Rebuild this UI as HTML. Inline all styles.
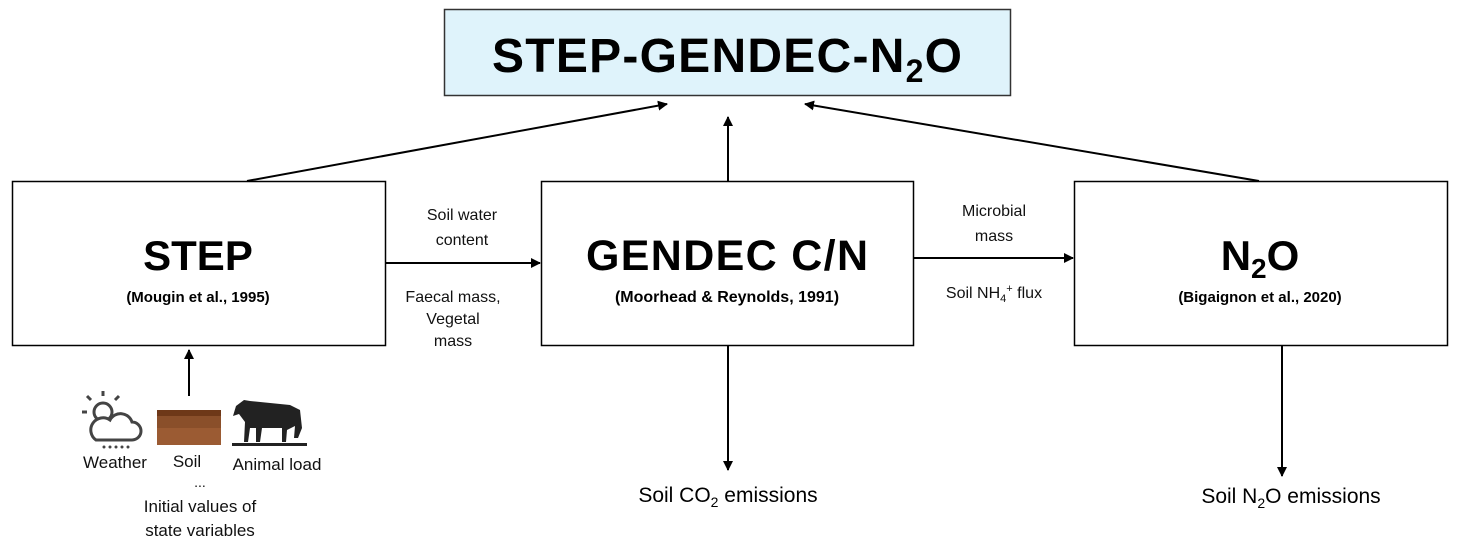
<!DOCTYPE html>
<html><head><meta charset="utf-8"><style>
body{margin:0;width:1461px;height:547px;background:#fff;overflow:hidden;font-family:"Liberation Sans",sans-serif}
</style></head><body>
<svg width="1461" height="547" xmlns="http://www.w3.org/2000/svg" font-family="Liberation Sans, sans-serif">
<defs><marker id="a" markerWidth="10" markerHeight="10" refX="9" refY="5" orient="auto" markerUnits="userSpaceOnUse"><path d="M0,0 L10,5 L0,10 z" fill="#000"/></marker></defs>
<rect x="444.5" y="9.5" width="566" height="86" fill="#dff3fb" stroke="#333" stroke-width="1.5"/>
<text x="727" y="72" text-anchor="middle" font-size="48" font-weight="bold" textLength="470">STEP-GENDEC-N<tspan font-size="32" dy="10">2</tspan><tspan dy="-10">O</tspan></text>
<g fill="#fff" stroke="#000" stroke-width="1.5">
<rect x="12.5" y="181.5" width="373" height="164"/>
<rect x="541.5" y="181.5" width="372" height="164"/>
<rect x="1074.5" y="181.5" width="373" height="164"/>
</g>
<text x="198" y="270" text-anchor="middle" font-size="42" font-weight="bold">STEP</text>
<text x="198" y="302" text-anchor="middle" font-size="15" font-weight="bold">(Mougin et al., 1995)</text>
<text x="727" y="270" text-anchor="middle" font-size="43" font-weight="bold" textLength="282">GENDEC C/N</text>
<text x="727" y="302" text-anchor="middle" font-size="16" font-weight="bold">(Moorhead &amp; Reynolds, 1991)</text>
<text x="1260" y="270" text-anchor="middle" font-size="42" font-weight="bold">N<tspan font-size="28" dy="8">2</tspan><tspan dy="-8">O</tspan></text>
<text x="1260" y="302" text-anchor="middle" font-size="15" font-weight="bold">(Bigaignon et al., 2020)</text>
<g stroke="#000" stroke-width="2" marker-end="url(#a)" fill="none">
<line x1="247" y1="181" x2="667" y2="104"/>
<line x1="728" y1="181" x2="728" y2="117"/>
<line x1="1259" y1="181" x2="805" y2="104"/>
<line x1="385" y1="263" x2="540" y2="263"/>
<line x1="913" y1="258" x2="1073" y2="258"/>
<line x1="728" y1="345" x2="728" y2="470"/>
<line x1="1282" y1="345" x2="1282" y2="476"/>
<line x1="189" y1="396" x2="189" y2="350"/>
</g>
<g font-size="16" text-anchor="middle" fill="#111">
<text x="462" y="220">Soil water</text><text x="462" y="245">content</text>
<text x="453" y="302">Faecal mass,</text><text x="453" y="324">Vegetal</text><text x="453" y="346">mass</text>
<text x="994" y="216">Microbial</text><text x="994" y="241">mass</text>
<text x="994" y="298">Soil NH<tspan font-size="11" dy="4">4</tspan><tspan font-size="11" dy="-10">+</tspan><tspan dy="6"> flux</tspan></text>
</g>
<text x="728" y="502" text-anchor="middle" font-size="21">Soil CO<tspan font-size="14" dy="5">2</tspan><tspan dy="-5"> emissions</tspan></text>
<text x="1291" y="503" text-anchor="middle" font-size="21">Soil N<tspan font-size="14" dy="5">2</tspan><tspan dy="-5">O emissions</tspan></text>
<g stroke="#444" stroke-width="3" fill="none">
<circle cx="103" cy="412" r="9"/>
<path d="M103,396v-5M91,400l-4,-4M87,412h-5M115,400l4,-4"/>
<path d="M96,440 h36 a9,9 0 0 0 0,-18 a12,12 0 0 0 -22,-2 a9,9 0 0 0 -14,20z" fill="#fff"/>
</g>
<g fill="#444"><circle cx="104" cy="447" r="1.5"/><circle cx="110" cy="447" r="1.5"/><circle cx="116" cy="447" r="1.5"/><circle cx="122" cy="447" r="1.5"/><circle cx="128" cy="447" r="1.5"/></g>
<rect x="157" y="410" width="64" height="35" fill="#8a4f2a"/>
<rect x="157" y="410" width="64" height="6" fill="#6e3818"/>
<rect x="157" y="428" width="64" height="17" fill="#9b5b33"/>
<path d="M236,406 l8,-6 l6,1 l40,4 l10,5 l2,18 l-4,10 l-4,0 l1,-12 l-8,4 l-1,12 l-4,0 l0,-14 l-20,0 l-2,14 l-4,0 l0,-14 l-6,0 l-2,14 l-4,0 l1,-20 l-6,-8 l-6,2z" fill="#222"/>
<rect x="232" y="443" width="75" height="3" fill="#222"/>
<g font-size="17" text-anchor="middle" fill="#111">
<text x="115" y="468">Weather</text>
<text x="187" y="467">Soil</text>
<text x="277" y="470">Animal load</text>
<text x="200" y="487" font-size="14">...</text>
<text x="200" y="512">Initial values of</text>
<text x="200" y="536">state variables</text>
</g>
</svg>
</body></html>
